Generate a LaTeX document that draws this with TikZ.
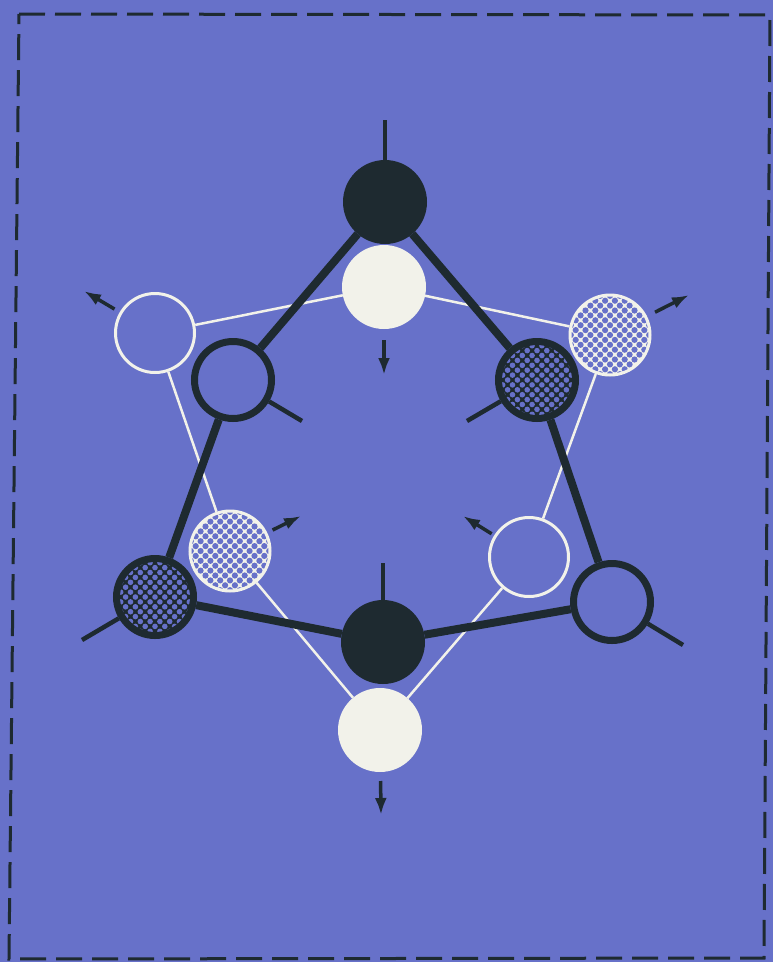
\documentclass[tikz,border=0pt]{standalone}
\usetikzlibrary{arrows.meta}
\definecolor{bg}{RGB}{103,113,201}
\definecolor{dk}{RGB}{30,42,48}
\definecolor{wh}{RGB}{242,242,234}
\begin{document}
\begin{tikzpicture}[x=1pt,y=-1pt,
  darkbond/.style={dk, line width=8pt},
  whitebond/.style={wh, line width=2.5pt},
  stub/.style={dk, line width=4.5pt},
  arr/.style={dk, line width=3.5pt, -{Latex[length=17pt,width=12pt]}},
  blackball/.style={circle, inner sep=0pt, outer sep=0pt, minimum size=84pt, fill=dk},
  whiteball/.style={circle, inner sep=0pt, outer sep=0pt, minimum size=84pt, fill=wh},
  darkring/.style={circle, inner sep=0pt, minimum size=77pt, draw=dk, line width=7pt},
  whitering/.style={circle, inner sep=0pt, minimum size=79pt, draw=wh, line width=3pt},
  darkhatch/.style={circle, inner sep=0pt, minimum size=77pt, draw=dk, fill=dk, line width=7pt,
    path picture={\foreach \i in {-9,...,9}{\foreach \j in {-9,...,9}{
      \fill[bg] ([shift={({(\i-\j)*4.9},{(\i+\j)*4.9})}]path picture bounding box.center) circle[radius=2.8pt];}}}},
  lighthatch/.style={circle, inner sep=0pt, minimum size=80pt, draw=wh, fill=wh, line width=3pt,
    path picture={\foreach \i in {-9,...,9}{\foreach \j in {-9,...,9}{
      \fill[bg] ([shift={({(\i-\j)*4.9},{(\i+\j)*4.9})}]path picture bounding box.center) circle[radius=3.1pt];}}}}
]
\useasboundingbox (0,0) rectangle (773,962);
\fill[bg] (0,0) rectangle (773,962);
% dashed frame
\coordinate (f1) at (19,14);
\coordinate (f2) at (770,15);
\coordinate (f3) at (764,958);
\coordinate (f4) at (9,959);
\draw[dk, line width=3pt, dash pattern=on 26pt off 10pt] (f1) -- (f2) -- (f3) -- (f4) -- cycle;

% white framework
\node[whiteball] (tw) at (384,287) {};
\node[whitering] (lw) at (155,333) {};
\node[lighthatch] (lh) at (230,551) {};
\node[whiteball] (bw) at (380,730) {};
\node[whitering] (rw) at (529,557) {};
\node[lighthatch] (rlh) at (610,335) {};
\draw[whitebond] (tw) -- (lw);
\draw[whitebond] (lw) -- (lh);
\draw[whitebond] (lh) -- (bw);
\draw[whitebond] (bw) -- (rw);
\draw[whitebond] (rw) -- (rlh);
\draw[whitebond] (rlh) -- (tw);

% dark framework
\node[blackball] (tb) at (385,202) {};
\node[darkring] (lr) at (233,380) {};
\node[darkhatch] (bh) at (155,597) {};
\node[blackball] (bb) at (383,642) {};
\node[darkring] (rr) at (612,602) {};
\node[darkhatch] (rh) at (537,380) {};
\draw[darkbond] (tb) -- (lr);
\draw[darkbond] (lr) -- (bh);
\draw[darkbond] (bh) -- (bb);
\draw[darkbond] (bb) -- (rr);
\draw[darkbond] (rr) -- (rh);
\draw[darkbond] (rh) -- (tb);

% stubs
\coordinate (s1) at (385,120);
\coordinate (s2) at (302,421);
\coordinate (s3) at (467,421);
\coordinate (s4) at (82,640);
\coordinate (s5) at (383,563);
\coordinate (s6) at (683,645);
\draw[stub] (tb) -- (s1);
\draw[stub] (lr) -- (s2);
\draw[stub] (rh) -- (s3);
\draw[stub] (bh) -- (s4);
\draw[stub] (bb) -- (s5);
\draw[stub] (rr) -- (s6);

% arrows
\coordinate (a1) at (384,375);
\coordinate (a2) at (84,291);
\coordinate (a3) at (689,295);
\coordinate (a4) at (301,516);
\coordinate (a5) at (463,516);
\coordinate (a6) at (381,815);
\draw[arr, shorten <=11pt] (tw) -- (a1);
\draw[arr, shorten <=6pt] (lw) -- (a2);
\draw[arr, shorten <=9pt] (rlh) -- (a3);
\draw[arr, shorten <=6pt] (lh) -- (a4);
\draw[arr, shorten <=3pt] (rw) -- (a5);
\draw[arr, shorten <=9pt] (bw) -- (a6);
\end{tikzpicture}
\end{document}
